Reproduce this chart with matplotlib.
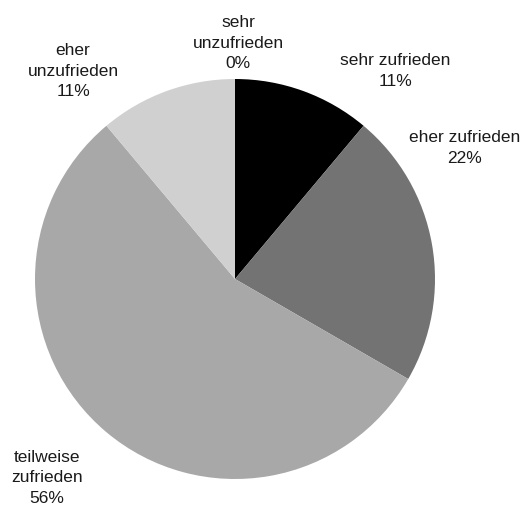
import matplotlib.pyplot as plt

plt.rcParams['font.family'] = ['Liberation Sans', 'DejaVu Sans']

categories = ['sehr zufrieden', 'eher zufrieden', 'teilweise zufrieden',
              'eher unzufrieden', 'sehr unzufrieden']
counts = [1, 2, 5, 1, 0]
colors = ['#000000', '#737373', '#a8a8a8', '#d0d0d0', '#ffffff']

# label text and its centre (pixels from top-left)
label_text = ['sehr zufrieden\n11%', 'eher zufrieden\n22%', 'teilweise\nzufrieden\n56%',
              'eher\nunzufrieden\n11%', 'sehr\nunzufrieden\n0%']
label_pos = [(395, 71), (465, 148), (47, 478), (73, 71), (238, 43)]

W, H = 525, 509
fig = plt.figure(figsize=(W / 100, H / 100), dpi=100)
ax = fig.add_axes([0, 0, 1, 1])

ax.pie(counts, colors=colors, startangle=90, counterclock=False,
       center=(235, H - 279), radius=200, frame=True,
       wedgeprops=dict(linewidth=0))
ax.set_xlim(0, W)
ax.set_ylim(0, H)
ax.set_aspect('equal')
ax.axis('off')

for txt, (x, y) in zip(label_text, label_pos):
    ax.text(x, H - y, txt, ha='center', va='center', fontsize=12.5,
            linespacing=1.45, color='#1a1a1a')

fig.savefig('out.png', dpi=100)
